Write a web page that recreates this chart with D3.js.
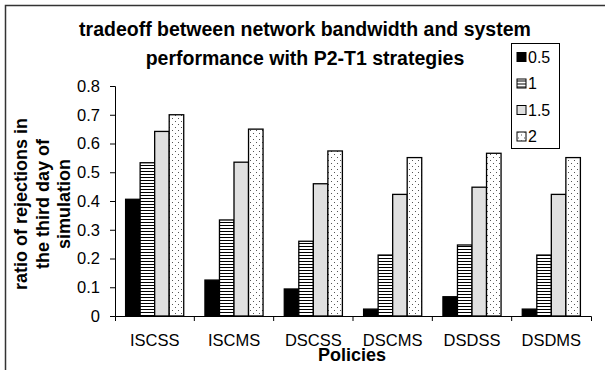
<!DOCTYPE html>
<html>
<head>
<meta charset="utf-8">
<script src="https://cdn.jsdelivr.net/npm/d3@7"></script>
<style>
  body { margin: 0; background: #fff; }
  text { font-family: Arial, "Liberation Sans", sans-serif; fill: #000; }
</style>
</head>
<body>
<div id="chart"></div>
<script>
// chart data
const policies = ["ISCSS", "ISCMS", "DSCSS", "DSCMS", "DSDSS", "DSDMS"];
const seriesNames = ["0.5", "1", "1.5", "2"];
const bw05 = [0.406, 0.125, 0.094, 0.024, 0.067, 0.024];
const bw1 = [0.533, 0.334, 0.26, 0.212, 0.247, 0.212];
const bw15 = [0.642, 0.535, 0.46, 0.423, 0.448, 0.423];
const bw2 = [0.70, 0.65, 0.574, 0.551, 0.566, 0.551];
const yTicks = [0, 0.1, 0.2, 0.3, 0.4, 0.5, 0.6, 0.7, 0.8];
const titleLines = [
  "tradeoff between network bandwidth and system",
  "performance with P2-T1 strategies",
];
const yLabelLines = ["ratio of rejections in", "the third day of", "simulation"];

const seriesValues = [bw05, bw1, bw15, bw2];

const width = 605;
const height = 370;
const plot = { left: 115, right: 591, top: 86, bottom: 316 };

const svg = d3
  .select("#chart")
  .append("svg")
  .attr("width", width)
  .attr("height", height);

// fill patterns
const defs = svg.append("defs");

const hatch = defs
  .append("pattern")
  .attr("id", "pat-lines")
  .attr("patternUnits", "userSpaceOnUse")
  .attr("width", 6)
  .attr("height", 3);
hatch.append("rect").attr("width", 6).attr("height", 3).attr("fill", "#fff");
hatch.append("rect").attr("y", 0).attr("width", 6).attr("height", 1).attr("fill", "#000");

const dots = defs
  .append("pattern")
  .attr("id", "pat-dots")
  .attr("patternUnits", "userSpaceOnUse")
  .attr("width", 6)
  .attr("height", 6);
dots.append("rect").attr("width", 6).attr("height", 6).attr("fill", "#fff");
dots.append("rect").attr("x", 1).attr("y", 1).attr("width", 1).attr("height", 1).attr("fill", "#555");
dots.append("rect").attr("x", 4).attr("y", 4).attr("width", 1).attr("height", 1).attr("fill", "#555");

const fills = ["#000", "url(#pat-lines)", "#e0e0e0", "url(#pat-dots)"];

// frame (left + top edges only)
svg
  .append("path")
  .attr("d", `M5.5,${height}V5.5H${width}`)
  .attr("fill", "none")
  .attr("stroke", "#333")
  .attr("stroke-width", 1.5);

// scales
const x0 = d3
  .scaleBand()
  .domain(policies)
  .range([plot.left, plot.right])
  .padding(0);

const x1 = d3
  .scaleBand()
  .domain(seriesNames)
  .range([0, x0.bandwidth()])
  .paddingInner(0)
  .paddingOuter(0.73);

const y = d3.scaleLinear().domain([0, 0.8]).range([plot.bottom, plot.top]);

// bars
policies.forEach((p, i) => {
  seriesNames.forEach((s, j) => {
    const v = seriesValues[j][i];
    svg
      .append("rect")
      .attr("x", x0(p) + x1(s))
      .attr("y", y(v))
      .attr("width", x1.bandwidth())
      .attr("height", y(0) - y(v))
      .attr("fill", fills[j])
      .attr("stroke", "#000")
      .attr("stroke-width", 1.3);
  });
});

// y axis
const yAxis = svg
  .append("g")
  .attr("transform", `translate(${plot.left},0)`)
  .call(
    d3
      .axisLeft(y)
      .tickValues(yTicks)
      .tickFormat((d) => (d === 0 ? "0" : d3.format(".1f")(d)))
      .tickSize(5)
      .tickPadding(10)
  );
yAxis.selectAll("text").style("font-size", "16.5px").style("font-family", "Arial, 'Liberation Sans', sans-serif");
yAxis.select(".domain").attr("stroke", "#000");

// x axis: labels centred, ticks on category boundaries
const xAxis = svg
  .append("g")
  .attr("transform", `translate(0,${plot.bottom})`)
  .call(d3.axisBottom(x0).tickSizeInner(0).tickSizeOuter(5).tickPadding(18));
xAxis.selectAll("text").style("font-size", "16.5px").style("font-family", "Arial, 'Liberation Sans', sans-serif");
xAxis.select(".domain").attr("stroke", "#000");

xAxis
  .selectAll(".boundary")
  .data(policies.slice(1))
  .enter()
  .append("line")
  .attr("class", "boundary")
  .attr("x1", (d) => x0(d))
  .attr("x2", (d) => x0(d))
  .attr("y1", 0)
  .attr("y2", 5)
  .attr("stroke", "#000");

// title
svg
  .append("g")
  .selectAll("text")
  .data(titleLines)
  .enter()
  .append("text")
  .attr("x", 305)
  .attr("y", (d, i) => 36 + i * 29)
  .attr("text-anchor", "middle")
  .style("font-size", "19.5px")
  .style("font-weight", "bold")
  .text((d) => d);

// y axis title
const yTitle = svg
  .append("text")
  .attr("transform", "translate(27,204) rotate(-90)")
  .attr("text-anchor", "middle")
  .style("font-size", "18px")
  .style("font-weight", "bold");
yLabelLines.forEach((line, i) => {
  yTitle
    .append("tspan")
    .attr("x", 0)
    .attr("y", i * 21.5)
    .text(line);
});

// x axis title
svg
  .append("text")
  .attr("x", 352)
  .attr("y", 361)
  .attr("text-anchor", "middle")
  .style("font-size", "18px")
  .style("font-weight", "bold")
  .text("Policies");

// legend
const legend = svg.append("g").attr("transform", "translate(511,43)");
legend
  .append("rect")
  .attr("x", 0.5)
  .attr("y", 0.5)
  .attr("width", 48)
  .attr("height", 105)
  .attr("fill", "#fff")
  .attr("stroke", "#000");

seriesNames.forEach((s, j) => {
  const row = legend.append("g").attr("transform", `translate(6,${14 + j * 26.5})`);
  row
    .append("rect")
    .attr("x", 0)
    .attr("y", -4.5)
    .attr("width", 9)
    .attr("height", 9)
    .attr("fill", fills[j])
    .attr("stroke", "#000");
  row
    .append("text")
    .attr("x", 11)
    .attr("y", 0)
    .attr("dy", "0.35em")
    .style("font-size", "16px")
    .text(s);
});
</script>
</body>
</html>
